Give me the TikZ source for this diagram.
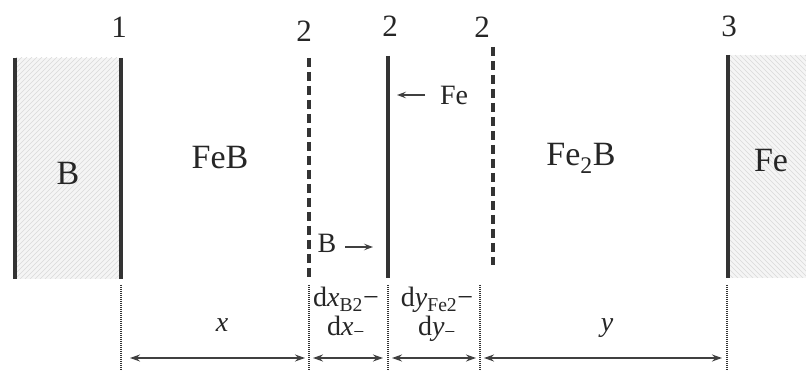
\documentclass[tikz,border=0pt]{standalone}
\usepackage{fontspec}
\setmainfont{Liberation Serif}
\usetikzlibrary{arrows.meta}
\begin{document}
\begin{tikzpicture}[x=1pt,y=-1pt,
  wall/.style={line width=3.2pt, draw=black!80},
  dwall/.style={line width=3.4pt, draw=black!80, dash pattern=on 9pt off 5pt},
  guide/.style={line width=1.3pt, draw=black!80, dash pattern=on 1.1pt off 0.9pt},
  tip/.tip={Stealth[length=10pt,width=7pt,inset=3.5pt]},
  dimarrow/.style={line width=1.4pt, draw=black!75, tip-tip},
  flux/.style={line width=1.3pt, draw=black!75, -{Stealth[length=9pt,width=6.5pt,inset=3.5pt]}},
  hatch/.style={draw=black!15, line width=0.6pt},
  big/.style={font=\fontsize{34}{38}\selectfont, text=black!85, inner sep=0pt, anchor=base},
  num/.style={font=\fontsize{31}{34}\selectfont, text=black!85, inner sep=0pt, anchor=base},
  small/.style={font=\fontsize{28}{32}\selectfont, text=black!85, inner sep=0pt, anchor=base},
]
\path[fill=white] (0,0) rectangle (806,371);
\useasboundingbox (0,0) rectangle (806,371);

% hatched regions
\begin{scope}
  \clip (15,58) rectangle (121,279);
  \fill[black!4] (15,58) rectangle (121,279);
  \foreach \i in {-250,-245,...,130} \draw[hatch] (\i,279) -- ++(240,-240);
\end{scope}
\begin{scope}
  \clip (728,55) rectangle (806,278);
  \fill[black!4] (728,55) rectangle (806,278);
  \foreach \i in {500,505,...,810} \draw[hatch] (\i,55) -- ++(240,240);
\end{scope}

% interface coordinates
\coordinate (b0t) at (15,58);   \coordinate (b0b) at (15,279);
\coordinate (i1t) at (121,58);  \coordinate (i1b) at (121,279);
\coordinate (i2at) at (309,58); \coordinate (i2ab) at (309,279);
\coordinate (i2bt) at (388,56); \coordinate (i2bb) at (388,278);
\coordinate (i2ct) at (493,47); \coordinate (i2cb) at (493,265);
\coordinate (i3t) at (728,55);  \coordinate (i3b) at (728,278);

\draw[wall] (b0t) -- (b0b);
\draw[wall] (i1t) -- (i1b);
\draw[dwall] (i2at) -- (i2ab);
\draw[wall] (i2bt) -- (i2bb);
\draw[dwall] (i2ct) -- (i2cb);
\draw[wall] (i3t) -- (i3b);

% guides
\foreach \n/\x in {g1/121,g2/309,g3/388,g4/480,g5/727}{
  \coordinate (\n t) at (\x,285);
  \coordinate (\n b) at (\x,371);
  \draw[guide] (\n t) -- (\n b);
}

% dimension arrows
\coordinate (d1l) at (130,358); \coordinate (d1r) at (305,358);
\coordinate (d2l) at (313,358); \coordinate (d2r) at (383,358);
\coordinate (d3l) at (392,358); \coordinate (d3r) at (476,358);
\coordinate (d4l) at (484,358); \coordinate (d4r) at (722,358);
\draw[dimarrow] (d1l) -- (d1r);
\draw[dimarrow] (d2l) -- (d2r);
\draw[dimarrow] (d3l) -- (d3r);
\draw[dimarrow] (d4l) -- (d4r);

% region labels
\node[big] (lB) at (68,185) {B};
\node[big] (lFeB) at (220,169) {FeB};
\node[big] (lFe2B) at (581,166) {Fe\textsubscript{2}B};
\node[big] (lFe) at (771,172) {Fe};

% interface numbers
\node[num] (n1) at (119,38) {1};
\node[num] (n2a) at (304,42) {2};
\node[num] (n2b) at (390,37) {2};
\node[num] (n2c) at (482,38) {2};
\node[num] (n3) at (729,37) {3};

% flux labels
\coordinate (fe1) at (425,95); \coordinate (fe2) at (397,95);
\draw[flux] (fe1) -- (fe2);
\node[small] (fFe) at (454,105) {Fe};
\coordinate (bb1) at (345,247); \coordinate (bb2) at (373,247);
\draw[flux] (bb1) -- (bb2);
\node[small] (fB) at (327,253) {B};

% dimension labels
\node[small] (dx) at (222,332) {\textit{x}};
\node[small] (dy) at (607,332) {\textit{y}};
\node[small] (dxa) at (346,307) {d\textit{x}\textsubscript{B2}−};
\node[small] (dxb) at (346,335) {d\textit{x}\textsubscript{−}};
\node[small] (dya) at (437,307) {d\textit{y}\textsubscript{Fe2}−};
\node[small] (dyb) at (437,335) {d\textit{y}\textsubscript{−}};
\end{tikzpicture}
\end{document}
